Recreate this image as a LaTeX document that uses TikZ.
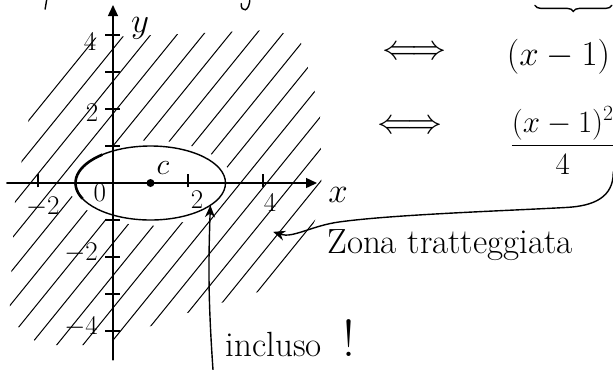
\RequirePackage{fix-cm}
\documentclass[tikz,border=0pt]{standalone}
\usepackage{amsmath}
\usetikzlibrary{arrows.meta,calc,decorations.pathreplacing}

\begin{document}
\begin{tikzpicture}[x=37.5pt,y=37pt,
    pen/.style={line width=1.4pt,line cap=round},
    hatch/.style={line width=1pt,line cap=round},
    axis/.style={pen,-{Triangle[length=11pt,width=10pt]}},
    tickmark/.style={line width=1.2pt},
    lab/.style={font=\fontsize{27}{30}\selectfont,inner sep=0pt},
    big/.style={font=\fontsize{35}{40}\selectfont,inner sep=0pt},
    dot/.style={circle,fill,inner sep=0pt,minimum size=8pt},
    note/.style={pen,-{Stealth[length=12pt,width=10pt]}}]

    \useasboundingbox (-3.013,-5.027) rectangle (13.333,4.946);
    \clip (-3.013,-5.027) rectangle (13.333,4.946);

    % zona tratteggiata (fuori dall'ellisse)
    \begin{scope}[even odd rule]
        \clip (-2.75,-3.16) -- (-2.61,-0.46) -- (-2.21,1.97) -- (-0.67,3.92) -- (4.32,4.14) -- (4.99,3.87) -- (5.52,1.97) -- (5.57,-0.46) -- (5.25,-1.41) -- (4.05,-2.89) -- (1.79,-3.57) -- (-0.35,-4.38) -- (-1.95,-4.38) -- (-2.75,-3.70) -- cycle
            (1,0) ellipse (2.2 and 1.15);
        \foreach \s in {-3.6,-2.9,...,6.4}
            \draw[hatch] (\s-4,-5) -- (\s+4,5);
    \end{scope}

    % assi
    \coordinate (xs) at (-2.83,0);
    \coordinate (xe) at (5.44,0);
    \coordinate (ys) at (0,-4.78);
    \coordinate (ye) at (0,4.81);
    \draw[axis] (xs) -- (xe);
    \draw[axis] (ys) -- (ye);
    \foreach \t in {-2,2,4}
        \draw[tickmark] (\t,-0.12) -- (\t,0.25);
    \foreach \t in {-4,...,-1,1,2,3,4}
        \draw[tickmark] (-0.2,\t) -- (0.2,\t);

    \node[big] (ylab) at (0.72,4.19) {$y$};
    \node[big] (xlab) at (6.0,-0.32) {$x$};
    \node[lab] (y4) at (-0.61,3.81) {$4$};
    \node[lab] (y2) at (-0.56,1.89) {$2$};
    \node[lab] (ym2) at (-0.85,-1.89) {$-2$};
    \node[lab] (ym4) at (-0.85,-3.89) {$-4$};
    \node[lab] (xm2) at (-1.87,-0.65) {$-2$};
    \node[lab] (x2) at (2.24,-0.46) {$2$};
    \node[lab] (x4) at (4.19,-0.54) {$4$};
    \node[lab] (orig) at (-0.35,-0.27) {$0$};

    % ellisse
    \draw[pen] (1,0) ellipse [x radius=2, y radius=1];
    \draw[line width=2.6pt] ($(1,0)+(130:2 and 1)$) arc[start angle=130, end angle=205, x radius=2, y radius=1];
    \node[dot] (c) at (1,0) {};
    \node[font=\fontsize{30}{34}\selectfont,inner sep=0pt] (clab) at (1.33,0.41) {$c$};

    % incluso
    \coordinate (inc) at ($(1,0)+(-37:2 and 1)$);
    \coordinate (incs) at (2.67,-5.1);
    \draw[note] (incs) to[bend left=3] (inc);
    \node[big,anchor=base west] (incl) at (3.0,-4.7) {incluso\ \ {\fontsize{52}{56}\selectfont !}};

    % zona tratteggiata
    \coordinate (zs) at (13.34,0.3);
    \coordinate (zt) at (4.27,-1.32);
    \draw[note] (zs) .. controls (13.35,-0.4) and (12.8,-0.62) .. (12.1,-0.66) .. controls (10.5,-0.75) and (7.5,-0.85) .. (6.05,-1.05) .. controls (5.3,-1.15) and (4.8,-1.5) .. (zt);
    \node[big,anchor=base west] (zona) at (5.71,-1.9) {Zona tratteggiata};

    % a destra
    \node[big] (eq1) at (8.03,3.51) {$\Longleftrightarrow$};
    \node[big] (eq2) at (7.92,1.51) {$\Longleftrightarrow$};
    \node[big,anchor=west] (f1) at (10.5,3.41) {$(x-1)$};
    \node[big,font=\fontsize{31}{36}\selectfont,anchor=base west] (f2) at (10.6,0.81) {$\displaystyle\frac{(x-1)^2}{4}$};
    \draw[pen,decorate,decoration={brace,mirror,amplitude=6pt}] (11.25,4.8) -- (13.3,4.8);

    % resti del testo sopra
    \draw[pen] (-1.76,5.0) -- (-1.81,4.7);
    \draw[pen] (3.65,5.0) .. controls (3.65,4.6) and (3.4,4.6) .. (3.42,4.85);
\end{tikzpicture}
\end{document}
